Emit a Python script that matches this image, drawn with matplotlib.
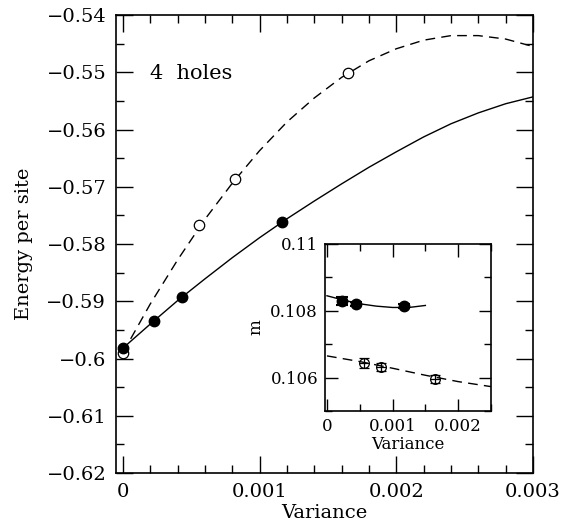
import numpy as np
import matplotlib
matplotlib.use("Agg")
import matplotlib.pyplot as plt
from matplotlib.ticker import MultipleLocator, FuncFormatter

plt.rcParams['font.family'] = ['DejaVu Serif']

# main panel: energy per site vs variance
var_filled = [0.0, 0.000225, 0.000435, 0.001164]
e_filled = [-0.5982, -0.5934, -0.5892, -0.5762]
var_open = [0.0, 0.00056, 0.000817, 0.001647]
e_open = [-0.5990, -0.5767, -0.5687, -0.5501]

# fitted curves
curve_var = [0.0, 0.0002, 0.0004, 0.0006, 0.0008, 0.0010, 0.0012, 0.0014,
             0.0016, 0.0018, 0.0020, 0.0022, 0.0024, 0.0026, 0.0028, 0.0030]
solid_e = [-0.5982, -0.5940, -0.5899, -0.5861, -0.5824, -0.5789, -0.5756, -0.5725,
           -0.5695, -0.5666, -0.5639, -0.5613, -0.5590, -0.5571, -0.5555, -0.5543]
dashed_e = [-0.5990, -0.5905, -0.5828, -0.5757, -0.5694, -0.5637, -0.5587, -0.5545,
            -0.5509, -0.5480, -0.5459, -0.5444, -0.5436, -0.5436, -0.5442, -0.5455]

# inset: m vs variance
in_var_filled = [0.00023, 0.00045, 0.00117]
m_filled = [0.10829, 0.10820, 0.10814]
m_filled_err = [0.00012, 0.00006, 0.00006]
in_var_open = [0.00057, 0.00082, 0.00165]
m_open = [0.10644, 0.10632, 0.10597]
m_open_err = [0.00014, 0.00012, 0.00012]

in_solid_var = [0.0, 0.00025, 0.0005, 0.00075, 0.0010, 0.00125, 0.0015]
in_solid_m = [0.10845, 0.10832, 0.10821, 0.10814, 0.10810, 0.10810, 0.10816]
in_dash_var = [0.0, 0.0005, 0.0010, 0.0015, 0.0020, 0.0025]
in_dash_m = [0.10665, 0.10648, 0.10628, 0.10607, 0.10588, 0.10573]


def fmt(v, pos):
    s = '%g' % v
    if abs(v) < 1e-12:
        s = '0'
    return s.replace('-', '\u2212')


def style_axes(ax, major_len, minor_len):
    ax.tick_params(which='both', direction='in', top=True, right=True, width=1.0)
    ax.tick_params(which='major', length=major_len)
    ax.tick_params(which='minor', length=minor_len)
    for s in ax.spines.values():
        s.set_linewidth(1.2)
    ax.xaxis.set_major_formatter(FuncFormatter(fmt))
    ax.yaxis.set_major_formatter(FuncFormatter(fmt))


fig = plt.figure(figsize=(5.61, 5.28), dpi=100)
ax = fig.add_axes([116 / 561, 55 / 528, 417 / 561, 458 / 528])

ax.plot(curve_var, solid_e, color='black', lw=1.0)
ax.plot(curve_var, dashed_e, color='black', lw=1.0, linestyle=(0, (7, 4.5)))
ax.plot(var_open, e_open, 'o', ms=7.5, mfc='white', mec='black', mew=0.9)
ax.plot(var_filled, e_filled, 'o', ms=7.5, color='black')

ax.set_xlim(-0.00005, 0.003)
ax.set_ylim(-0.62, -0.54)
ax.xaxis.set_major_locator(MultipleLocator(0.001))
ax.xaxis.set_minor_locator(MultipleLocator(0.0002))
ax.yaxis.set_major_locator(MultipleLocator(0.01))
ax.yaxis.set_minor_locator(MultipleLocator(0.005))
style_axes(ax, 12, 6)
ax.tick_params(labelsize=14, pad=7)
ax.set_xlabel('Variance', fontsize=14, labelpad=2)
ax.set_ylabel('Energy per site', fontsize=14, labelpad=10)
ax.text(0.0002, -0.5511, '4  holes', fontsize=15, va='baseline')

# inset
ins = fig.add_axes([325 / 561, 117 / 528, 166 / 561, 167 / 528])
ins.plot(in_solid_var, in_solid_m, color='black', lw=1.0)
ins.plot(in_dash_var, in_dash_m, color='black', lw=1.0, linestyle=(0, (7, 4.5)))
ins.errorbar(in_var_open, m_open, yerr=m_open_err, fmt='o', ms=7, mfc='none',
             mec='black', mew=0.9, ecolor='black', elinewidth=0.9, capsize=3.5,
             capthick=0.9)
ins.plot(in_var_open, m_open, '_', ms=7, color='black', mew=0.9)
ins.errorbar(in_var_filled, m_filled, yerr=m_filled_err, fmt='o', ms=7.5,
             color='black', ecolor='black', elinewidth=0.9, capsize=4, capthick=1.5)
ins.set_xlim(-0.00003, 0.0025)
ins.set_ylim(0.105, 0.110)
ins.xaxis.set_major_locator(MultipleLocator(0.001))
ins.xaxis.set_minor_locator(MultipleLocator(0.0005))
ins.yaxis.set_major_locator(MultipleLocator(0.002))
ins.yaxis.set_minor_locator(MultipleLocator(0.001))
style_axes(ins, 9, 5)
ins.tick_params(labelsize=12, pad=5)
ins.set_xlabel('Variance', fontsize=12, labelpad=1)
ins.set_ylabel('m', fontsize=12, labelpad=4)

fig.savefig('out.png', dpi=100)
